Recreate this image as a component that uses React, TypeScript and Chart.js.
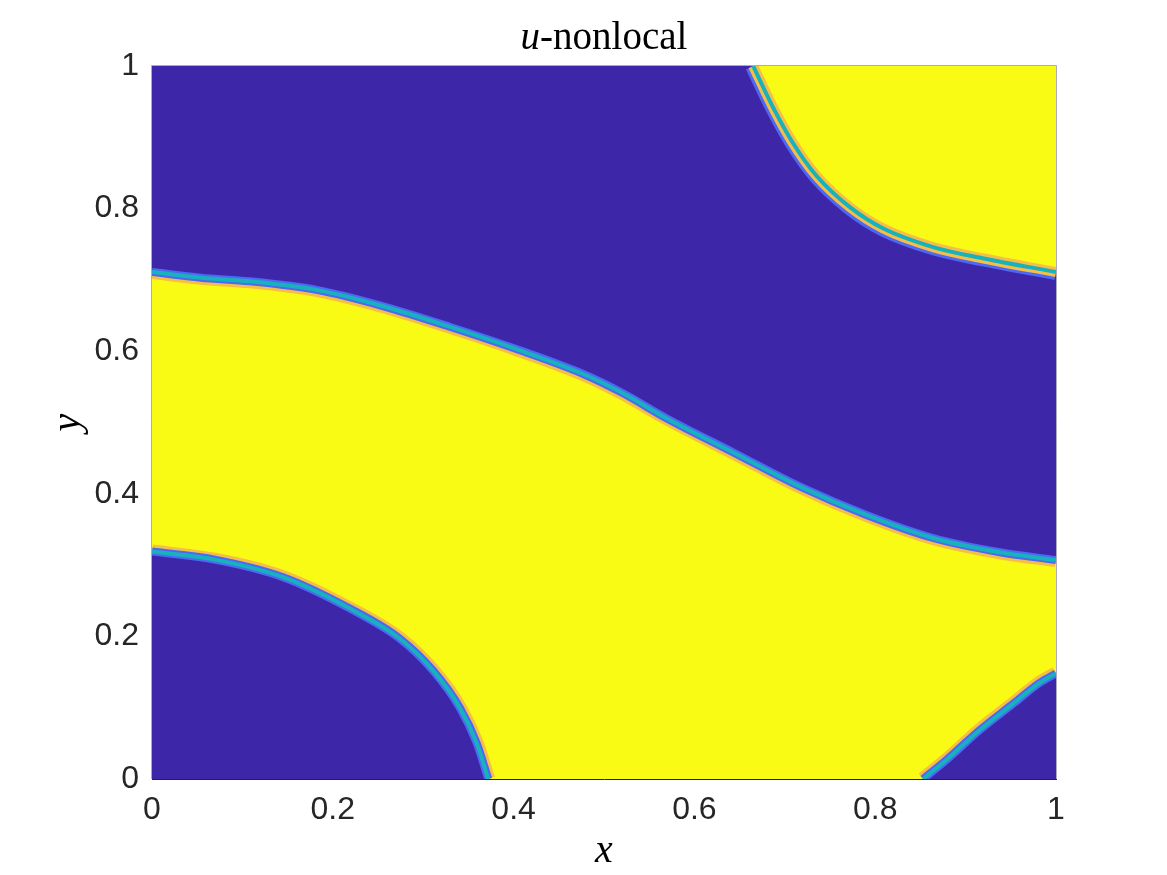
import React, { useEffect, useRef } from 'react';
import { Chart, registerables } from 'chart.js';

Chart.register(...registerables);

// ---- axes / labels ----
const X_TICKS = [0, 0.2, 0.4, 0.6, 0.8, 1];
const Y_TICKS = [0, 0.2, 0.4, 0.6, 0.8, 1];
const X_MIN = 0;
const X_MAX = 1;
const Y_MIN = 0;
const Y_MAX = 1;
const TITLE_MATH = 'u';
const TITLE_REST = '-nonlocal';
const X_LABEL = 'x';
const Y_LABEL = 'y';

// ---- interface curves of the field u (blue = low, yellow = high) ----
// central band, upper interface (blue above, yellow below)
const UPPER_X = [0, 0.054, 0.108, 0.182, 0.256, 0.33, 0.403, 0.477, 0.521, 0.569, 0.643, 0.717, 0.791, 0.864, 0.938, 1];
const UPPER_Y = [0.711, 0.703, 0.698, 0.686, 0.663, 0.634, 0.603, 0.568, 0.541, 0.506, 0.458, 0.41, 0.37, 0.338, 0.318, 0.307];
// top-right yellow region boundary
const TOPRIGHT_X = [0.665, 0.687, 0.709, 0.735, 0.772, 0.809, 0.864, 0.92, 1];
const TOPRIGHT_Y = [1, 0.942, 0.892, 0.846, 0.802, 0.772, 0.746, 0.73, 0.711];
// lower-left blue region boundary
const LOWLEFT_X = [0, 0.072, 0.145, 0.219, 0.274, 0.311, 0.341, 0.359, 0.372];
const LOWLEFT_Y = [0.319, 0.307, 0.283, 0.239, 0.197, 0.152, 0.099, 0.051, 0];
// lower-right blue region boundary
const LOWRIGHT_X = [0.853, 0.879, 0.916, 0.953, 0.982, 1];
const LOWRIGHT_Y = [0, 0.027, 0.069, 0.106, 0.135, 0.148];

// ---- colours (parula ends and interface shades) ----
const BLUE = 'rgb(62,38,168)';
const YELLOW = 'rgb(249,251,20)';
const LIGHTBLUE = 'rgb(76,104,244)';
const TEAL = 'rgb(24,178,188)';
const ORANGE = 'rgb(246,190,70)';
const TEXT = '#262626';

const curve = (xs: number[], ys: number[]) => xs.map((x, i) => ({ x, y: ys[i] }));
const fmt = (v: number) => String(Math.round(v * 10) / 10);

const bgPlugin = {
  id: 'plotBg',
  beforeDatasetsDraw(chart: any) {
    const { ctx, chartArea: a } = chart;
    ctx.save();
    ctx.fillStyle = YELLOW;
    ctx.fillRect(a.left, a.top, a.right - a.left, a.bottom - a.top);
    ctx.restore();
  },
  afterDatasetsDraw(chart: any) {
    const { ctx, chartArea: a } = chart;
    ctx.save();
    ctx.strokeStyle = 'rgba(150,150,170,0.8)';
    ctx.lineWidth = 1;
    ctx.beginPath();
    ctx.moveTo(a.left - 0.5, a.top - 0.5);
    ctx.lineTo(a.right + 0.5, a.top - 0.5);
    ctx.lineTo(a.right + 0.5, a.bottom);
    ctx.moveTo(a.left - 0.5, a.top - 0.5);
    ctx.lineTo(a.left - 0.5, a.bottom);
    ctx.stroke();
    ctx.restore();
  },
};

const titlePlugin = {
  id: 'mathTitle',
  afterDraw(chart: any) {
    const { ctx, chartArea: a } = chart;
    const size = 39;
    const fI = `italic ${size}px "Liberation Serif"`;
    const fN = `${size}px "Liberation Serif"`;
    ctx.save();
    ctx.font = fI;
    const w1 = ctx.measureText(TITLE_MATH).width;
    ctx.font = fN;
    const w2 = ctx.measureText(TITLE_REST).width;
    const cx = (a.left + a.right) / 2;
    const x0 = cx - (w1 + w2) / 2;
    const y = a.top - 17;
    ctx.fillStyle = '#000';
    ctx.textBaseline = 'alphabetic';
    ctx.textAlign = 'left';
    ctx.font = fI;
    ctx.fillText(TITLE_MATH, x0, y);
    ctx.font = fN;
    ctx.fillText(TITLE_REST, x0 + w1, y);
    ctx.restore();
  },
};

export default function App() {
  const ref = useRef<HTMLCanvasElement>(null);

  useEffect(() => {
    const U = curve(UPPER_X, UPPER_Y);
    const TR = curve(TOPRIGHT_X, TOPRIGHT_Y);
    const LL = curve(LOWLEFT_X, LOWLEFT_Y);
    const LR = curve(LOWRIGHT_X, LOWRIGHT_Y);

    const base = {
      pointRadius: 0,
      pointHoverRadius: 0,
      cubicInterpolationMode: 'monotone',
      clip: 0,
      fill: false,
      borderWidth: 0,
      borderColor: 'transparent',
      backgroundColor: 'transparent',
    };
    const stroke = (data: any[], color: string, w: number, order: number) => ({
      ...base, data, borderColor: color, borderWidth: w, order,
    });
    const area = (data: any[], fill: string, color: string, order: number) => ({
      ...base, data, fill, backgroundColor: color, order,
    });

    const datasets: any[] = [
      stroke(U, ORANGE, 14, 100),
      stroke(LL, ORANGE, 14, 100),
      stroke(LR, ORANGE, 14, 100),
      area(U, 'end', BLUE, 90),
      area(LL, 'origin', BLUE, 90),
      area(LR, 'origin', BLUE, 90),
      stroke(U, LIGHTBLUE, 8, 80),
      stroke(LL, LIGHTBLUE, 8, 80),
      stroke(LR, LIGHTBLUE, 8, 80),
      stroke(TR, LIGHTBLUE, 16, 80),
      area(TR, 'end', YELLOW, 70),
      stroke(TR, ORANGE, 10, 60),
      stroke(U, TEAL, 4, 50),
      stroke(LL, TEAL, 4, 50),
      stroke(LR, TEAL, 4, 50),
      stroke(TR, TEAL, 4, 50),
    ];

    const tickFont = { family: '"Liberation Sans", Arial, sans-serif', size: 32 };
    const labFont = { family: '"Liberation Serif", serif', size: 40, style: 'italic' as const };

    const chart = new Chart(ref.current as HTMLCanvasElement, {
      type: 'line',
      data: { datasets },
      options: {
        responsive: false,
        animation: false,
        devicePixelRatio: 1,
        events: [],
        layout: { padding: { top: 66, right: 111, bottom: 0, left: 0 } },
        plugins: {
          legend: { display: false },
          tooltip: { enabled: false },
          title: { display: false },
        },
        scales: {
          x: {
            type: 'linear',
            min: X_MIN,
            max: X_MAX,
            afterFit: (s: any) => { s.height = 96; },
            afterBuildTicks: (s: any) => { s.ticks = X_TICKS.map((v) => ({ value: v })); },
            ticks: {
              padding: 12,
              color: TEXT,
              font: tickFont,
              maxRotation: 0,
              autoSkip: false,
              callback: (v: any) => fmt(Number(v)),
            },
            grid: { display: false, drawTicks: false },
            border: { display: true, color: TEXT, width: 1 },
            title: { display: true, text: X_LABEL, color: '#000', font: labFont, padding: { top: 0, bottom: 0 } },
          },
          y: {
            type: 'linear',
            min: Y_MIN,
            max: Y_MAX,
            afterFit: (s: any) => { s.width = 152; },
            afterBuildTicks: (s: any) => { s.ticks = Y_TICKS.map((v) => ({ value: v })); },
            ticks: {
              padding: 13,
              color: TEXT,
              font: tickFont,
              autoSkip: false,
              callback: (v: any) => fmt(Number(v)),
            },
            grid: { display: false, drawTicks: false },
            border: { display: false },
            title: { display: true, text: Y_LABEL, color: '#000', font: labFont, padding: { top: 44, bottom: 0 } },
          },
        },
      } as any,
      plugins: [bgPlugin, titlePlugin],
    });
    return () => chart.destroy();
  }, []);

  return (
    <div style={{ position: 'fixed', left: 0, top: 0, width: 1167, height: 875, background: '#fff' }}>
      <canvas ref={ref} width={1167} height={875} style={{ display: 'block', width: 1167, height: 875 }} />
    </div>
  );
}
